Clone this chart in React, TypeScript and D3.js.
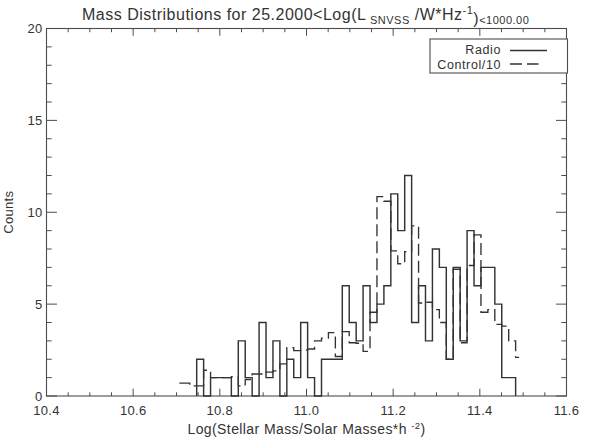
import React from 'react';
import * as d3 from 'd3';

// Histogram bins (log stellar mass), shared by both series
const BIN_START = 10.7466;
const BIN_WIDTH = 0.016;

// Radio-selected galaxies: counts per bin, starting at BIN_START
const radioCounts = [
  2, 0, 1, 1, 1, 0, 3, 1, 0, 4,
  1, 3, 0, 2, 1, 4, 1, 0, 2, 2,
  2, 6, 4, 3, 6, 4, 5, 6, 11, 9,
  12, 4, 6, 3, 8, 7, 2, 7, 3, 9,
  6, 7, 7, 5, 1, 1,
];

// Control sample divided by 10; first bin index relative to BIN_START
const CONTROL_FIRST_BIN = -3;
const controlScaled = [
  0.7, 0.7, 0.55, 0.55, 1.4, 1.0, 1.0, 1.0, 1.05, 0.55,
  0.9, 1.2, 1.2, 1.3, 1.37, 1.75, 2.63, 2.47, 2.5, 2.56,
  3.0, 3.15, 3.45, 2.15, 3.5, 2.9, 2.87, 2.43, 4.56, 10.85,
  10.6, 7.9, 7.2, 7.85, 9.26, 5.06, 5.1, 4.7, 4.0, 2.0,
  6.9, 2.9, 7.1, 8.77, 4.56, 4.7, 3.9, 3.8, 3.0, 2.1,
];

const xMajorTicks = [10.4, 10.6, 10.8, 11.0, 11.2, 11.4, 11.6];
const xTickLabels = ['10.4', '10.6', '10.8', '11.0', '11.2', '11.4', '11.6'];
const yMajorTicks = [0, 5, 10, 15, 20];
const yTickLabels = ['0', '5', '10', '15', '20'];

const legendLabels = ['Radio', 'Control/10'];

const W = 593;
const H = 440;
const M = { left: 46.5, right: 566.5, top: 28.5, bottom: 396 };

const FONT = "'Liberation Sans', Arial, Helvetica, sans-serif";
const INK = '#333333';
const AXIS = '#4d4d4d';

export default function App() {
  const x = d3.scaleLinear().domain([10.4, 11.6]).range([M.left, M.right]);
  const y = d3.scaleLinear().domain([0, 20]).range([M.bottom, M.top]);

  const edge = (k: number) => BIN_START + k * BIN_WIDTH;
  const line = d3
    .line<[number, number]>()
    .x((d) => x(d[0]))
    .y((d) => y(d[1]))
    .curve(d3.curveStepAfter);

  // Radio: closed to the baseline at both ends
  const radioPts: [number, number][] = [[edge(0), 0]];
  radioCounts.forEach((v, i) => radioPts.push([edge(i), v]));
  radioPts.push([edge(radioCounts.length), radioCounts[radioCounts.length - 1]]);
  radioPts.push([edge(radioCounts.length), 0]);

  // Control: half-width steps at the two ends
  const n = controlScaled.length;
  const controlPts: [number, number][] = [];
  controlScaled.forEach((v, i) => {
    const k = CONTROL_FIRST_BIN + i;
    controlPts.push([i === 0 ? edge(k) + BIN_WIDTH / 2 : edge(k), v]);
  });
  controlPts.push([edge(CONTROL_FIRST_BIN + n - 1) + BIN_WIDTH / 2, controlScaled[n - 1]]);

  const xMinor = d3.range(10.4, 11.6001, 0.05).filter(
    (t) => !xMajorTicks.some((m) => Math.abs(m - t) < 1e-6)
  );
  const yMinor = d3.range(0, 20.001, 1).filter((t) => t % 5 !== 0);

  const xMajLen = 7.3;
  const xMinLen = 3.7;
  const yMajLen = 10.5;
  const yMinLen = 5.2;

  const tickLines: JSX.Element[] = [];
  xMajorTicks.forEach((t, i) => {
    tickLines.push(<line key={`xb${i}`} x1={x(t)} x2={x(t)} y1={M.bottom} y2={M.bottom - xMajLen} />);
    tickLines.push(<line key={`xt${i}`} x1={x(t)} x2={x(t)} y1={M.top} y2={M.top + xMajLen} />);
  });
  xMinor.forEach((t, i) => {
    tickLines.push(<line key={`xbm${i}`} x1={x(t)} x2={x(t)} y1={M.bottom} y2={M.bottom - xMinLen} />);
    tickLines.push(<line key={`xtm${i}`} x1={x(t)} x2={x(t)} y1={M.top} y2={M.top + xMinLen} />);
  });
  yMajorTicks.forEach((t, i) => {
    tickLines.push(<line key={`yl${i}`} x1={M.left} x2={M.left + yMajLen} y1={y(t)} y2={y(t)} />);
    tickLines.push(<line key={`yr${i}`} x1={M.right} x2={M.right - yMajLen} y1={y(t)} y2={y(t)} />);
  });
  yMinor.forEach((t, i) => {
    tickLines.push(<line key={`ylm${i}`} x1={M.left} x2={M.left + yMinLen} y1={y(t)} y2={y(t)} />);
    tickLines.push(<line key={`yrm${i}`} x1={M.right} x2={M.right - yMinLen} y1={y(t)} y2={y(t)} />);
  });

  const legX0 = 430;
  const legY0 = 39;
  const legX1 = M.right + 1;
  const legY1 = 73;

  return (
    <svg width={W} height={H} style={{ position: 'absolute', left: 0, top: 0, background: '#fff' }}>
      <rect x={0} y={0} width={W} height={H} fill="#fff" />

      {/* title */}
      <text x={82} y={20} textAnchor="start" fontFamily={FONT} fontSize={16} fill={INK} letterSpacing={0.5}>
        <tspan>Mass Distributions for 25.2000&lt;Log(L</tspan>
        <tspan fontSize={11} dy={4}> SNVSS</tspan>
        <tspan dy={-4}> /W*Hz</tspan>
        <tspan fontSize={11} dy={-6}>-1</tspan>
        <tspan dy={10}>)</tspan>
        <tspan fontSize={11}>&lt;1000.00</tspan>
      </text>

      {/* frame */}
      <rect x={M.left} y={M.top} width={M.right - M.left} height={M.bottom - M.top} fill="none" stroke={AXIS} strokeWidth={1.1} />
      <g stroke={AXIS} strokeWidth={1}>{tickLines}</g>

      {/* tick labels */}
      <g fontFamily={FONT} fontSize={13} fill={INK}>
        {xMajorTicks.map((t, i) => (
          <text key={`xl${i}`} x={x(t)} y={415} textAnchor="middle" letterSpacing={0.3}>
            {xTickLabels[i]}
          </text>
        ))}
        {yMajorTicks.map((t, i) => (
          <text key={`yl${i}`} x={M.left - 4} y={y(t) + 4.5} textAnchor="end" letterSpacing={0.3}>
            {yTickLabels[i]}
          </text>
        ))}
      </g>

      {/* axis titles */}
      <text x={(M.left + M.right) / 2} y={434} textAnchor="middle" fontFamily={FONT} fontSize={14} fill={INK} letterSpacing={0.4}>
        <tspan>Log(Stellar Mass/Solar Masses*h </tspan>
        <tspan fontSize={9.5} dy={-5}>-2</tspan>
        <tspan dy={5}>)</tspan>
      </text>
      <text
        transform={`translate(13,${(M.top + M.bottom) / 2}) rotate(-90)`}
        textAnchor="middle"
        fontFamily={FONT}
        fontSize={13}
        fill={INK}
        letterSpacing={0.3}
      >
        Counts
      </text>

      {/* histograms */}
      <path d={line(controlPts) ?? ''} fill="none" stroke={INK} strokeWidth={1.35} strokeDasharray="12 5" />
      <path d={line(radioPts) ?? ''} fill="none" stroke={INK} strokeWidth={1.45} />

      {/* legend */}
      <rect x={legX0} y={legY0} width={legX1 - legX0} height={legY1 - legY0} fill="#fff" stroke={AXIS} strokeWidth={1.1} />
      <g fontFamily={FONT} fontSize={12.5} fill={INK} letterSpacing={0.6}>
        <text x={501} y={54} textAnchor="end">{legendLabels[0]}</text>
        <text x={501} y={68.5} textAnchor="end">{legendLabels[1]}</text>
      </g>
      <line x1={510} x2={547} y1={50.5} y2={50.5} stroke={INK} strokeWidth={1.4} />
      <line x1={510} x2={538.5} y1={64} y2={64} stroke={INK} strokeWidth={1.4} strokeDasharray="12 5" />
    </svg>
  );
}
